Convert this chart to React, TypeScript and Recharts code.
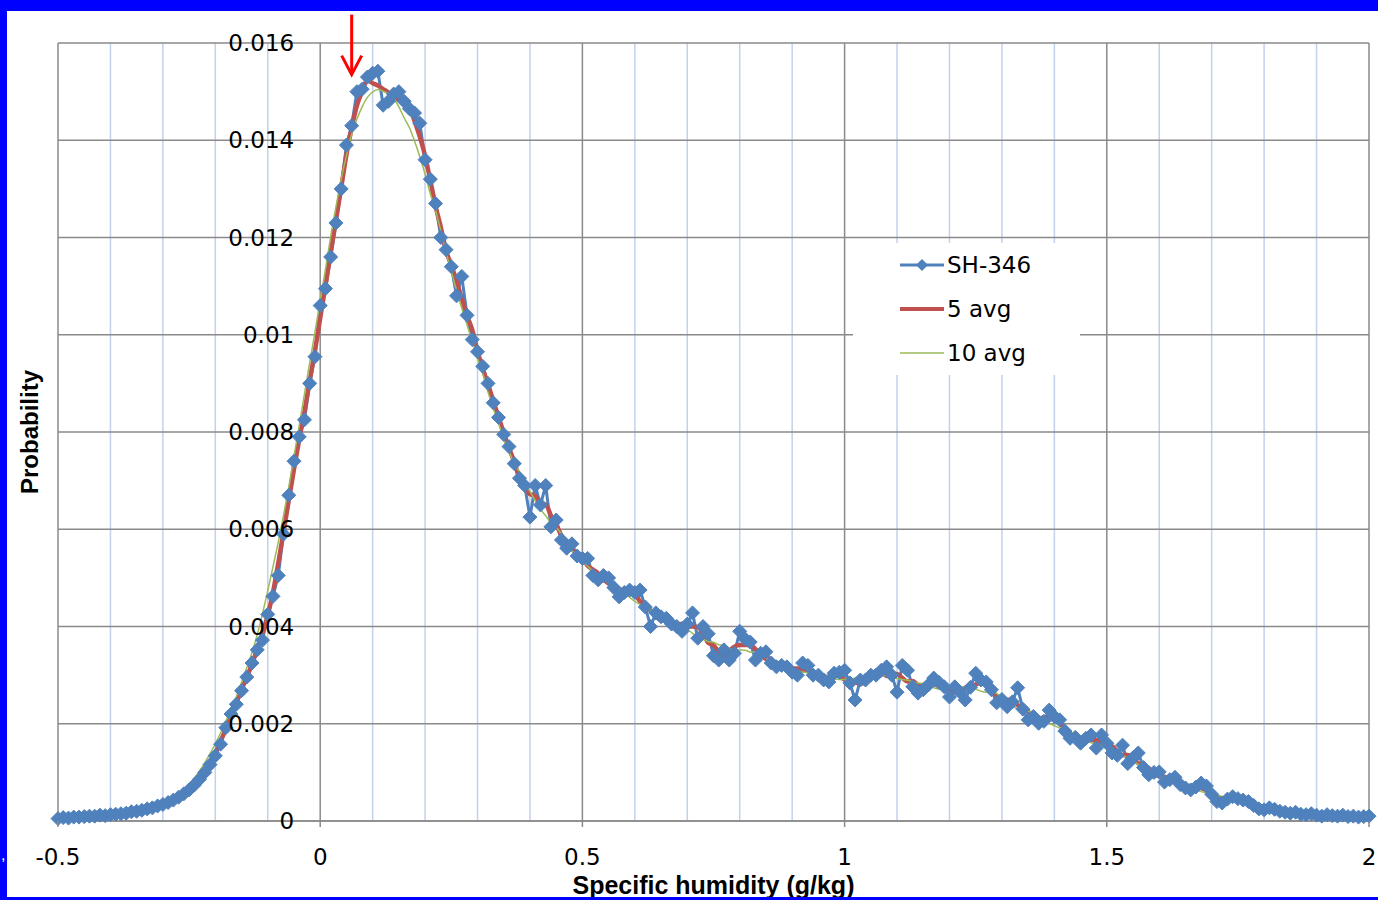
import { CartesianGrid, Legend, Line, LineChart, ReferenceDot, XAxis, YAxis } from "recharts"

// bin centres, g/kg
const HUMIDITY = [
  -0.5, -0.49, -0.48, -0.47, -0.46, -0.45, -0.44, -0.43, -0.42, -0.41,
  -0.4, -0.39, -0.38, -0.37, -0.36, -0.35, -0.34, -0.33, -0.32, -0.31,
  -0.3, -0.29, -0.28, -0.27, -0.26, -0.25, -0.24, -0.23, -0.22, -0.21,
  -0.2, -0.19, -0.18, -0.17, -0.16, -0.15, -0.14, -0.13, -0.12, -0.11,
  -0.1, -0.09, -0.08, -0.07, -0.06, -0.05, -0.04, -0.03, -0.02, -0.01,
  0, 0.01, 0.02, 0.03, 0.04, 0.05, 0.06, 0.07, 0.08, 0.09,
  0.1, 0.11, 0.12, 0.13, 0.14, 0.15, 0.16, 0.17, 0.18, 0.19,
  0.2, 0.21, 0.22, 0.23, 0.24, 0.25, 0.26, 0.27, 0.28, 0.29,
  0.3, 0.31, 0.32, 0.33, 0.34, 0.35, 0.36, 0.37, 0.38, 0.39,
  0.4, 0.41, 0.42, 0.43, 0.44, 0.45, 0.46, 0.47, 0.48, 0.49,
  0.5, 0.51, 0.52, 0.53, 0.54, 0.55, 0.56, 0.57, 0.58, 0.59,
  0.6, 0.61, 0.62, 0.63, 0.64, 0.65, 0.66, 0.67, 0.68, 0.69,
  0.7, 0.71, 0.72, 0.73, 0.74, 0.75, 0.76, 0.77, 0.78, 0.79,
  0.8, 0.81, 0.82, 0.83, 0.84, 0.85, 0.86, 0.87, 0.88, 0.89,
  0.9, 0.91, 0.92, 0.93, 0.94, 0.95, 0.96, 0.97, 0.98, 0.99,
  1, 1.01, 1.02, 1.03, 1.04, 1.05, 1.06, 1.07, 1.08, 1.09,
  1.1, 1.11, 1.12, 1.13, 1.14, 1.15, 1.16, 1.17, 1.18, 1.19,
  1.2, 1.21, 1.22, 1.23, 1.24, 1.25, 1.26, 1.27, 1.28, 1.29,
  1.3, 1.31, 1.32, 1.33, 1.34, 1.35, 1.36, 1.37, 1.38, 1.39,
  1.4, 1.41, 1.42, 1.43, 1.44, 1.45, 1.46, 1.47, 1.48, 1.49,
  1.5, 1.51, 1.52, 1.53, 1.54, 1.55, 1.56, 1.57, 1.58, 1.59,
  1.6, 1.61, 1.62, 1.63, 1.64, 1.65, 1.66, 1.67, 1.68, 1.69,
  1.7, 1.71, 1.72, 1.73, 1.74, 1.75, 1.76, 1.77, 1.78, 1.79,
  1.8, 1.81, 1.82, 1.83, 1.84, 1.85, 1.86, 1.87, 1.88, 1.89,
  1.9, 1.91, 1.92, 1.93, 1.94, 1.95, 1.96, 1.97, 1.98, 1.99, 2,
]

// probability per bin for SH-346
const SH_346 = [
  0.00005, 0.00007, 0.00006, 0.00008, 0.00008, 0.00009, 0.0001, 0.0001, 0.00012, 0.00011,
  0.00013, 0.00014, 0.00015, 0.00016, 0.00019, 0.0002, 0.00022, 0.00025, 0.00027, 0.00031,
  0.00034, 0.00038, 0.00043, 0.00049, 0.00056, 0.00064, 0.00074, 0.00086, 0.001, 0.00116,
  0.00134, 0.00158, 0.00192, 0.0022, 0.0024, 0.00268, 0.00296, 0.00325, 0.00352, 0.00372,
  0.00425, 0.00462, 0.00505, 0.0059, 0.0067, 0.0074, 0.0079, 0.00825, 0.009, 0.00955,
  0.0106, 0.01095, 0.0116, 0.0123, 0.013, 0.0139, 0.0143, 0.015, 0.01505, 0.0153,
  0.01538, 0.01542, 0.01472, 0.0148, 0.01495, 0.015, 0.0148, 0.01465, 0.01456, 0.01435,
  0.0136, 0.0132, 0.0127, 0.012, 0.01175, 0.0114, 0.0108, 0.0112, 0.0104, 0.0099,
  0.00965, 0.00935, 0.009, 0.0086, 0.0083, 0.00795, 0.0077, 0.00735, 0.00705, 0.0069,
  0.00625, 0.0069, 0.0065, 0.0069, 0.00605, 0.00619, 0.00578, 0.00561, 0.0057, 0.00545,
  0.0054, 0.0054, 0.00505, 0.00496, 0.00505, 0.005, 0.0048, 0.00461, 0.0047, 0.00475,
  0.0047, 0.00475, 0.0044, 0.004, 0.00428, 0.0042, 0.00417, 0.00405, 0.004, 0.0039,
  0.00405, 0.00428, 0.00376, 0.004, 0.00385, 0.0034, 0.00331, 0.00352, 0.00331, 0.00345,
  0.0039, 0.00375, 0.00368, 0.00331, 0.00345, 0.00348, 0.00325, 0.00317, 0.0032, 0.00317,
  0.00306, 0.003, 0.00325, 0.0032, 0.003, 0.003, 0.0029, 0.00286, 0.00304, 0.00306,
  0.0031, 0.00284, 0.00249, 0.0029, 0.0029, 0.003, 0.003, 0.0031, 0.00317, 0.003,
  0.00265, 0.0032, 0.0031, 0.00276, 0.00263, 0.0027, 0.0028, 0.00294, 0.00285, 0.00276,
  0.00255, 0.00276, 0.00265, 0.00249, 0.00275, 0.00304, 0.0029, 0.00286, 0.0027, 0.00243,
  0.0025, 0.00235, 0.00245, 0.00274, 0.0023, 0.00208, 0.00215, 0.00201, 0.00205, 0.00228,
  0.00215, 0.00208, 0.00185, 0.0017, 0.00172, 0.0016, 0.0017, 0.00177, 0.0015, 0.00177,
  0.0016, 0.0014, 0.00135, 0.00156, 0.00118, 0.0013, 0.0014, 0.0011, 0.00095, 0.001,
  0.00101, 0.0008, 0.00085, 0.0009, 0.00075, 0.00068, 0.00064, 0.0007, 0.00078, 0.00072,
  0.00055, 0.0004, 0.00037, 0.00045, 0.0005, 0.00046, 0.00043, 0.0004, 0.00032, 0.00025,
  0.00023, 0.00027, 0.00024, 0.0002, 0.00018, 0.00016, 0.00018, 0.00014, 0.00013, 0.00015,
  0.00012, 0.0001, 0.00013, 0.00011, 0.0001, 0.00012, 0.00009, 0.0001, 0.00008, 0.00009, 0.0001,
]

const X_TICKS_MAJOR = [-0.5, 0, 0.5, 1, 1.5, 2]
const X_TICKS_ALL = [
  -0.5, -0.4, -0.3, -0.2, -0.1, 0, 0.1, 0.2, 0.3, 0.4, 0.5, 0.6, 0.7,
  0.8, 0.9, 1, 1.1, 1.2, 1.3, 1.4, 1.5, 1.6, 1.7, 1.8, 1.9, 2,
]
const Y_TICKS = [0, 0.002, 0.004, 0.006, 0.008, 0.01, 0.012, 0.014, 0.016]
const SERIES = ["SH-346", "5 avg", "10 avg"]
const PEAK_ARROW = { x: 0.06, y: 0.01535 }

const W = 1378
const H = 900
const PLOT_LEFT = 58
const PLOT_RIGHT = 1369
const PLOT_TOP = 43
const PLOT_BOTTOM = 821
const X_DOMAIN: [number, number] = [-0.5, 2]
// Excel crosses the value axis at x = 0, labels sit just left of it
const ZERO_X = PLOT_LEFT + ((0 - X_DOMAIN[0]) / (X_DOMAIN[1] - X_DOMAIN[0])) * (PLOT_RIGHT - PLOT_LEFT)

const BLUE = "#4f81bd"
const RED = "#c0504d"
const GREEN = "#9bbb59"
const MAJOR_GRID = "#8a8a8a"
const MINOR_GRID = "#c2d1ec"
const TICK_FONT = "'DejaVu Sans', sans-serif"
const TITLE_FONT = "'Liberation Sans', Arial, sans-serif"

// centred moving average over the available neighbours
function movingAverage(values: number[], n: number) {
  return values.map((_, i) => {
    const start = Math.max(0, i - Math.floor((n - 1) / 2))
    const end = Math.min(values.length, i - Math.floor((n - 1) / 2) + n)
    let sum = 0
    for (let k = start; k < end; k++) sum += values[k]
    return sum / (end - start)
  })
}

const avg5 = movingAverage(SH_346, 5)
const avg10 = movingAverage(SH_346, 10)
const data = HUMIDITY.map((x, i) => ({ x, sh: SH_346[i], avg5: avg5[i], avg10: avg10[i] }))

function Diamond(props: any) {
  const { cx, cy, index } = props
  if (cx == null || cy == null) return <g key={`d-${index}`} />
  const r = 7
  return (
    <path
      key={`d-${index}`}
      d={`M${cx},${cy - r} L${cx + r},${cy} L${cx},${cy + r} L${cx - r},${cy} Z`}
      fill={BLUE}
      stroke={BLUE}
      strokeWidth={1}
    />
  )
}

function verticalGridLine(props: any) {
  const { x1, y1, x2, y2, index } = props
  const v = X_TICKS_ALL[index]
  const major = v === undefined || X_TICKS_MAJOR.includes(v)
  return (
    <line
      key={`vg-${index}`}
      x1={x1}
      y1={y1}
      x2={x2}
      y2={y2}
      stroke={major ? MAJOR_GRID : MINOR_GRID}
      strokeWidth={1.5}
    />
  )
}

function XTick(props: any) {
  const { x, y, payload } = props
  if (!X_TICKS_MAJOR.includes(payload.value)) return <g />
  return (
    <g>
      <line x1={x} y1={y} x2={x} y2={y + 6} stroke={MAJOR_GRID} strokeWidth={1.5} />
      <text x={x} y={y + 44} textAnchor="middle" fontFamily={TICK_FONT} fontSize={23} fill="#000">
        {String(payload.value)}
      </text>
    </g>
  )
}

function YTick(props: any) {
  const { y, payload } = props
  return (
    <text x={ZERO_X - 26} y={y + 8} textAnchor="end" fontFamily={TICK_FONT} fontSize={23} fill="#000">
      {String(payload.value)}
    </text>
  )
}

function PeakArrow(props: any) {
  const { cx, cy } = props
  return (
    <g stroke="#ff0000" strokeWidth={3} fill="none">
      <line x1={cx} y1={cy - 60} x2={cx} y2={cy - 1} />
      <polyline points={`${cx - 10},${cy - 19} ${cx},${cy} ${cx + 10},${cy - 19}`} />
    </g>
  )
}

function LegendBox() {
  const icons = [
    <svg width={44} height={20} key="i0">
      <line x1={0} y1={10} x2={44} y2={10} stroke={BLUE} strokeWidth={3} />
      <path d="M22,4 L28,10 L22,16 L16,10 Z" fill={BLUE} />
    </svg>,
    <svg width={44} height={20} key="i1">
      <line x1={0} y1={10} x2={44} y2={10} stroke={RED} strokeWidth={4} />
    </svg>,
    <svg width={44} height={20} key="i2">
      <line x1={0} y1={10} x2={44} y2={10} stroke={GREEN} strokeWidth={1.5} />
    </svg>,
  ]
  return (
    <div style={{ background: "#fff", width: 227, height: 132, fontFamily: TICK_FONT, fontSize: 23, color: "#000" }}>
      {SERIES.map((name, i) => (
        <div key={name} style={{ display: "flex", alignItems: "center", height: 44, paddingLeft: 47 }}>
          {icons[i]}
          <span style={{ marginLeft: 3, lineHeight: "44px" }}>{name}</span>
        </div>
      ))}
    </div>
  )
}

export default function App() {
  return (
    <div style={{ position: "absolute", left: 0, top: 0, width: W, height: H, background: "#fff", overflow: "hidden" }}>
      <LineChart
        width={W}
        height={H}
        data={data}
        margin={{ top: PLOT_TOP, right: W - PLOT_RIGHT, left: 0, bottom: 0 }}
      >
        <CartesianGrid horizontal={false} vertical={verticalGridLine} />
        <CartesianGrid vertical={false} stroke={MAJOR_GRID} strokeWidth={1.5} />
        <XAxis
          dataKey="x"
          type="number"
          domain={X_DOMAIN}
          ticks={X_TICKS_ALL}
          interval={0}
          height={H - PLOT_BOTTOM}
          tickSize={0}
          tickMargin={0}
          tickLine={false}
          axisLine={{ stroke: MAJOR_GRID, strokeWidth: 1.5 }}
          tick={<XTick />}
          label={{
            value: "Specific humidity (g/kg)",
            position: "insideBottom",
            offset: 6,
            fontFamily: TITLE_FONT,
            fontSize: 25,
            fontWeight: "bold",
            fill: "#000",
          }}
        />
        <YAxis
          type="number"
          domain={[0, 0.016]}
          ticks={Y_TICKS}
          interval={0}
          width={PLOT_LEFT}
          axisLine={false}
          tickLine={false}
          tick={<YTick />}
          label={{
            value: "Probability",
            angle: -90,
            position: "center",
            fontFamily: TITLE_FONT,
            fontSize: 24,
            fontWeight: "bold",
            fill: "#000",
          }}
        />
        <Line
          dataKey="sh"
          name={SERIES[0]}
          type="linear"
          stroke={BLUE}
          strokeWidth={3}
          dot={Diamond}
          activeDot={false}
          isAnimationActive={false}
        />
        <Line
          dataKey="avg5"
          name={SERIES[1]}
          type="monotone"
          stroke={RED}
          strokeWidth={4.5}
          dot={false}
          activeDot={false}
          isAnimationActive={false}
        />
        <Line
          dataKey="avg10"
          name={SERIES[2]}
          type="monotone"
          stroke={GREEN}
          strokeWidth={1.5}
          dot={false}
          activeDot={false}
          isAnimationActive={false}
        />
        <ReferenceDot x={PEAK_ARROW.x} y={PEAK_ARROW.y} ifOverflow="visible" shape={PeakArrow} />
        <Legend
          layout="vertical"
          align="center"
          verticalAlign="middle"
          content={LegendBox}
          wrapperStyle={{ left: 853, top: 243, width: 227, height: 132 }}
        />
      </LineChart>
      {/* slide frame */}
      <div style={{ position: "absolute", left: 0, top: 0, width: W, height: 11, background: "#0000ff" }} />
      <div style={{ position: "absolute", left: 0, top: 0, width: 7, height: H, background: "#0000ff" }} />
      <div style={{ position: "absolute", left: 0, top: H - 3, width: W, height: 3, background: "#0000ff" }} />
      <div style={{ position: "absolute", left: 1, top: 846, color: "#fff", fontFamily: TITLE_FONT, fontSize: 16 }}>,</div>
    </div>
  )
}
